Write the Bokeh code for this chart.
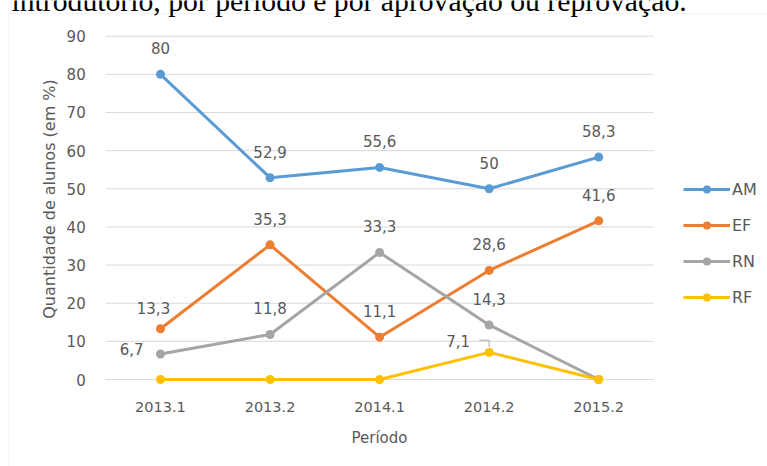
from bokeh.plotting import figure
from bokeh.models import (ColumnDataSource, Range1d, FixedTicker, Legend,
                          LegendItem, Label, BoxAnnotation)
from bokeh.core.properties import value
from bokeh.embed import file_html
from bokeh.resources import INLINE

# ---- data ----
periods = ["2013.1", "2013.2", "2014.1", "2014.2", "2015.2"]
am = [80, 52.9, 55.6, 50, 58.3]
ef = [13.3, 35.3, 11.1, 28.6, 41.6]
rn = [6.7, 11.8, 33.3, 14.3, 0]
rf = [0, 0, 0, 7.1, 0]
series_names = ["AM", "EF", "RN", "RF"]
y_ticks = [0, 10, 20, 30, 40, 50, 60, 70, 80, 90]
caption = "introdutório, por período e por aprovação ou reprovação."

colors = ["#5B9BD5", "#ED7D31", "#A5A5A5", "#FFC000"]
TXT = "#595959"
FONT = "DejaVu Sans"
W, H = 767, 466

# label placement tweaks (screen px): (series, period) -> (dx, dy, align)
label_tweaks = {
    ("EF", "2013.1"): (-7, -21, "center"),
    ("RN", "2013.1"): (-17, -5, "right"),
    ("RF", "2014.2"): (-19, -11, "right"),
}

xi = list(range(len(periods)))
# plot area geometry (pixels): category band 109.56 px, first centre at x=160,
# value 0 at y=379 and 90 at y=35.7
band, x0px = 109.56, 159.98
ypx0, ypx90 = 379.0, 35.7
upx = (ypx0 - ypx90) / 90.0
x_range = Range1d(-x0px / band, (W - x0px) / band)
y_range = Range1d(-(H - ypx0) / upx, 90 + ypx90 / upx)

p = figure(width=W, height=H, x_range=x_range, y_range=y_range,
           output_backend="svg", toolbar_location=None,
           min_border_left=0, min_border_right=0, min_border_top=0, min_border_bottom=0)
p.outline_line_color = None
p.background_fill_color = "white"
p.border_fill_color = "white"
p.xgrid.grid_line_color = None
p.ygrid.grid_line_color = None

# axes placed inside the canvas
xa, ya = p.xaxis[0], p.yaxis[0]
xa.ticker = FixedTicker(ticks=xi)
xa.major_label_overrides = {i: s for i, s in zip(xi, periods)}
xa.fixed_location = 0
xa.bounds = (-0.5, len(periods) - 0.5)
ya.ticker = FixedTicker(ticks=y_ticks)
ya.fixed_location = -0.5
ya.bounds = (-0.0001, 94.74)
for ax in (xa, ya):
    ax.axis_line_color = None
    ax.major_tick_line_color = None
    ax.minor_tick_line_color = None
    ax.major_label_text_color = TXT
    ax.major_label_text_font = FONT
    ax.axis_label_text_color = TXT
    ax.axis_label_text_font = FONT
    ax.axis_label_text_font_style = "normal"
xa.major_label_text_font_size = "14.5px"
ya.major_label_text_font_size = "15px"
xa.major_label_standoff = 16
ya.major_label_standoff = 14
xa.axis_label = "Período"
ya.axis_label = "Quantidade de alunos (em %)"
xa.axis_label_text_font_size = "15px"
ya.axis_label_text_font_size = "16px"
xa.axis_label_standoff = 14
ya.axis_label_standoff = 4

# outer chart border
p.add_layout(BoxAnnotation(left=8, right=W + 50, bottom=-50, top=H - 13,
                           left_units="screen", right_units="screen",
                           bottom_units="screen", top_units="screen",
                           fill_alpha=0, line_color="#D9D9D9", line_width=1))

# horizontal gridlines over the category area
p.segment(x0=[-0.5] * len(y_ticks), x1=[len(periods) - 0.5] * len(y_ticks),
          y0=y_ticks, y1=y_ticks, line_color="#D9D9D9", line_width=1)

items = []
for name, vals, col in zip(series_names, [am, ef, rn, rf], colors):
    src = ColumnDataSource(dict(x=xi, y=vals))
    ln = p.line("x", "y", source=src, line_color=col, line_width=3)
    sc = p.scatter("x", "y", source=src, size=9, fill_color=col, line_color=col, line_width=0)
    items.append(LegendItem(label=name, renderers=[ln, sc]))
    lx, ly, lt, dx, dy, al = [], [], [], [], [], []
    for k, per, v in zip(xi, periods, vals):
        if v == 0:
            continue
        ox, oy, a = label_tweaks.get((name, per), (0, -26, "center"))
        lx.append(k); ly.append(v); lt.append(f"{v:g}".replace(".", ","))
        dx.append(ox); dy.append(oy); al.append(a)
    lsrc = ColumnDataSource(dict(x=lx, y=ly, t=lt, dx=dx, dy=dy, al=al))
    p.text("x", "y", text="t", source=lsrc, x_offset="dx", y_offset="dy",
           text_align="al", text_baseline="middle", text_color=TXT,
           text_font=value(FONT), text_font_size="15px")

# leader line for the RF 2014.2 label
k = periods.index("2014.2")
v = rf[k]
p.line([k - 0.09, k, k], [v + 3.2, v + 3.2, v + 1.4], line_color="#A6A6A6", line_width=1)

legend = Legend(items=items, location=(683, 159), orientation="vertical",
                glyph_width=47, glyph_height=20, label_height=20, spacing=16,
                label_standoff=2, padding=0, margin=0,
                border_line_alpha=0, background_fill_alpha=0,
                label_text_color=TXT, label_text_font=FONT, label_text_font_size="16px")
p.add_layout(legend)

# caption text cut at the top of the picture
p.add_layout(Label(x=11, y=H, x_units="screen", y_units="screen", text=caption,
                   text_font="Liberation Serif", text_font_size="29.7px",
                   text_color="black", text_baseline="alphabetic"))

open("out.html", "w").write(file_html(p, INLINE))
